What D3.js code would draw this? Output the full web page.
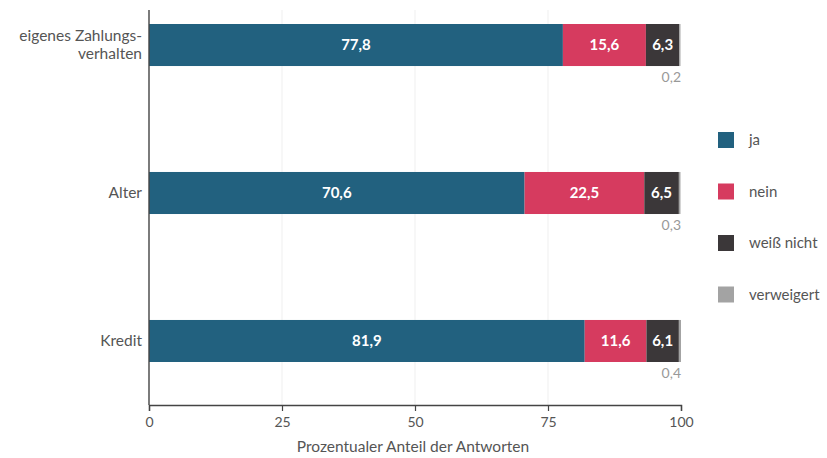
<!DOCTYPE html>
<html>
<head>
<meta charset="utf-8">
<script src="https://cdn.jsdelivr.net/npm/d3@7"></script>
<style>
  html, body { margin: 0; padding: 0; background: #fff; }
  svg { display: block; font-family: Lato, "Open Sans", sans-serif; }
</style>
</head>
<body>
<svg id="chart" width="827" height="458"></svg>
<script>
// Categories (top to bottom) and their wrapped label lines
const categories = ["eigenes Zahlungsverhalten", "Alter", "Kredit"];
const categoryLines = [["eigenes Zahlungs-", "verhalten"], ["Alter"], ["Kredit"]];

// Answer groups and shares in percent per category
const seriesNames = ["ja", "nein", "weiß nicht", "verweigert"];
const jaValues = [77.8, 70.6, 81.9];
const neinValues = [15.6, 22.5, 11.6];
const weissNichtValues = [6.3, 6.5, 6.1];
const verweigertValues = [0.2, 0.3, 0.4];

const xTicks = [0, 25, 50, 75, 100];
const xTitle = "Prozentualer Anteil der Antworten";

const colors = ["#22617f", "#d63b5f", "#3b3739", "#a3a3a3"];
const fmt = v => d3.format(".1f")(v).replace(".", ",");

const svg = d3.select("#chart");
const W = 827, H = 458;
const plot = { left: 149, right: 681, top: 10, bottom: 405 };

const x = d3.scaleLinear().domain([0, 100]).range([plot.left, plot.right]);
const y = d3.scaleBand().domain(categories).range([24, 362]).paddingInner(0.716).paddingOuter(0);

const rows = categories.map((c, i) => ({
  cat: c,
  vals: [jaValues[i], neinValues[i], weissNichtValues[i], verweigertValues[i]]
}));

const layers = d3.stack().keys(d3.range(4)).value((d, k) => d.vals[k])(rows);

// Very faint vertical gridlines
svg.append("g").selectAll("line").data(xTicks.slice(1, -1)).enter().append("line")
  .attr("x1", d => x(d)).attr("x2", d => x(d))
  .attr("y1", plot.top).attr("y2", plot.bottom)
  .attr("stroke", "#f7f7f7").attr("stroke-width", 2);

const g = svg.append("g");

layers.forEach((layer, k) => {
  g.selectAll(null).data(layer).enter().append("rect")
    .attr("x", d => x(d[0]))
    .attr("width", d => x(d[1]) - x(d[0]))
    .attr("y", d => y(d.data.cat))
    .attr("height", y.bandwidth())
    .attr("fill", colors[k]);
});

// Value labels inside the first three segments
layers.slice(0, 3).forEach((layer, k) => {
  g.selectAll(null).data(layer).enter().append("text")
    .attr("x", d => (x(d[0]) + x(d[1])) / 2)
    .attr("y", d => y(d.data.cat) + y.bandwidth() / 2)
    .attr("dy", "0.35em")
    .attr("text-anchor", "middle")
    .attr("fill", "#fff")
    .attr("font-size", 15)
    .attr("font-weight", 700)
    .text(d => fmt(d.data.vals[k]));
});

// Small "verweigert" shares below each bar
g.selectAll(null).data(layers[3]).enter().append("text")
  .attr("x", x(100))
  .attr("y", d => y(d.data.cat) + y.bandwidth() + 11)
  .attr("dy", "0.35em")
  .attr("text-anchor", "end")
  .attr("fill", "#999")
  .attr("font-size", 14)
  .text(d => fmt(d.data.vals[3]));

// X axis
const xAxis = svg.append("g")
  .attr("transform", `translate(0,${plot.bottom})`)
  .call(d3.axisBottom(x).tickValues(xTicks).tickSize(6).tickPadding(6).tickFormat(d3.format("d")));
xAxis.select(".domain").attr("stroke", "#444").attr("stroke-width", 1.4);
xAxis.selectAll(".tick line").attr("stroke", "#444").attr("stroke-width", 1.2);
xAxis.selectAll(".tick text").attr("fill", "#555").attr("font-size", 14).attr("font-family", "Lato, sans-serif");

svg.append("text")
  .attr("x", (x(0) + x(100)) / 2 - 2)
  .attr("y", 447)
  .attr("dy", "0.35em")
  .attr("text-anchor", "middle")
  .attr("fill", "#555")
  .attr("font-size", 15.5)
  .text(xTitle);

// Y axis line with category labels
svg.append("line")
  .attr("x1", x(0)).attr("x2", x(0))
  .attr("y1", plot.top).attr("y2", plot.bottom)
  .attr("stroke", "#444").attr("stroke-width", 1.4);

categories.forEach((c, i) => {
  const lines = categoryLines[i];
  const cy = y(c) + y.bandwidth() / 2;
  const lh = 18;
  const t = svg.append("text")
    .attr("text-anchor", "end")
    .attr("fill", "#555")
    .attr("font-size", 15.5);
  lines.forEach((ln, j) => {
    t.append("tspan")
      .attr("x", x(0) - 7)
      .attr("y", cy + (j - (lines.length - 1) / 2) * lh)
      .attr("dy", "0.35em")
      .text(ln);
  });
});

// Legend
const legend = svg.append("g").attr("transform", "translate(718,140)");
seriesNames.forEach((s, i) => {
  const row = legend.append("g").attr("transform", `translate(0,${i * 51.5})`);
  row.append("rect").attr("y", -8).attr("width", 16).attr("height", 16).attr("fill", colors[i]);
  row.append("text").attr("x", 31).attr("y", 0).attr("dy", "0.35em")
    .attr("fill", "#555").attr("font-size", 15).text(s);
});
</script>
</body>
</html>
